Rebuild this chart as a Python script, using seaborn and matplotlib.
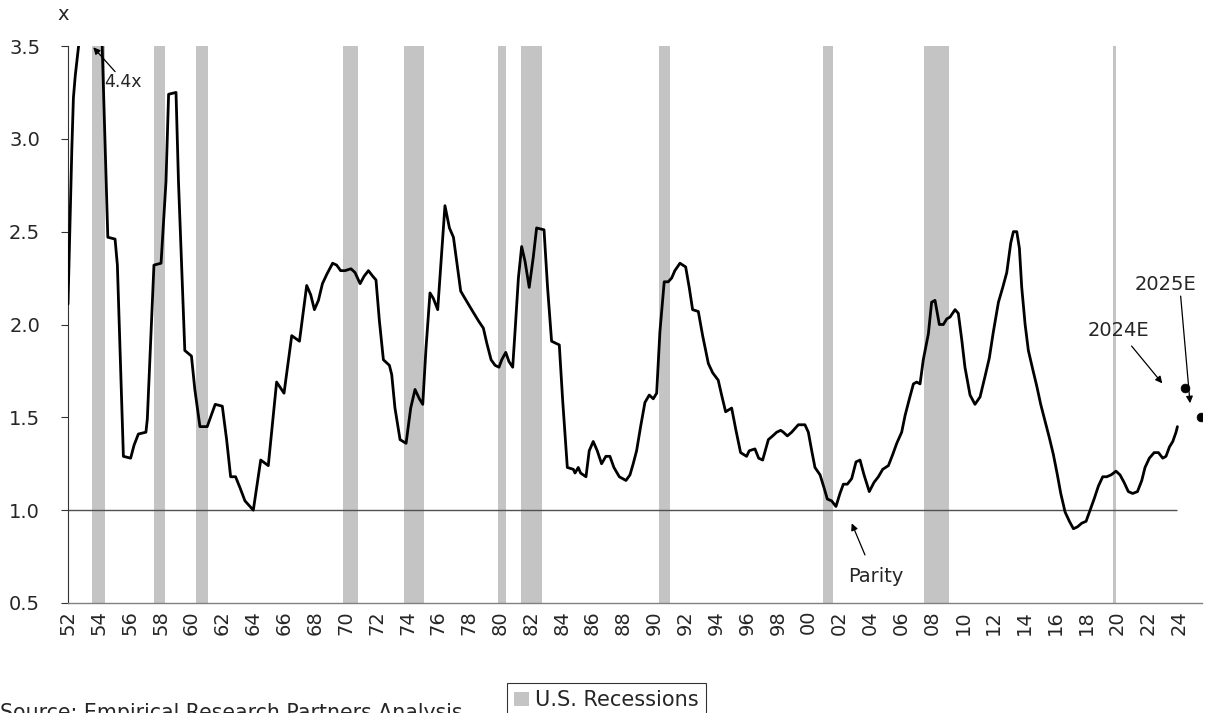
# -*- coding: utf-8 -*-
# relative multiple, 1952-2024, with U.S. recession bands
import numpy as np
import pandas as pd
import seaborn as sns
import matplotlib.pyplot as plt
from matplotlib.patches import Patch

#%% data
years = [1952.0, 1952.25, 1952.35, 1952.47, 1953.9, 1954.58, 1955.05, 1955.2, 1955.59, 1956.06,
         1956.28, 1956.56, 1957.05, 1957.14, 1957.57, 1958.03, 1958.35, 1958.52, 1959.0, 1959.16,
         1959.57, 1960.0, 1960.22, 1960.55, 1961.02, 1961.54, 1962.0, 1962.28, 1962.54, 1962.86,
         1963.15, 1963.47, 1964.01, 1964.49, 1964.98, 1965.52, 1966.0, 1966.5, 1967.0, 1967.47,
         1967.73, 1967.97, 1968.23, 1968.49, 1968.77, 1969.15, 1969.41, 1969.67, 1969.95, 1970.34,
         1970.6, 1970.93, 1971.19, 1971.47, 1971.75, 1971.96, 1972.18, 1972.44, 1972.83, 1972.98,
         1973.19, 1973.52, 1973.91, 1974.21, 1974.49, 1974.77, 1974.99, 1975.2, 1975.46, 1975.68,
         1975.96, 1976.22, 1976.43, 1976.72, 1976.98, 1977.19, 1977.45, 1977.73, 1978.16, 1978.6,
         1978.92, 1979.14, 1979.42, 1979.68, 1979.93, 1980.11, 1980.37, 1980.58, 1980.82, 1980.97,
         1981.19, 1981.4, 1981.62, 1981.89, 1982.15, 1982.37, 1982.85, 1983.08, 1983.34, 1983.84,
         1984.06, 1984.36, 1984.75, 1984.86, 1985.07, 1985.22, 1985.57, 1985.78, 1986.04, 1986.3,
         1986.58, 1986.86, 1987.12, 1987.38, 1987.73, 1988.16, 1988.42, 1988.63, 1988.85, 1989.11,
         1989.39, 1989.67, 1989.93, 1990.15, 1990.36, 1990.64, 1990.9, 1991.12, 1991.33, 1991.66,
         1992.03, 1992.26, 1992.48, 1992.85, 1993.13, 1993.5, 1993.78, 1994.14, 1994.36, 1994.62,
         1995.01, 1995.29, 1995.59, 1995.98, 1996.15, 1996.52, 1996.76, 1997.02, 1997.39, 1997.67,
         1997.93, 1998.19, 1998.36, 1998.62, 1998.9, 1999.33, 1999.76, 1999.98, 2000.2, 2000.41,
         2000.74, 2001.0, 2001.21, 2001.49, 2001.77, 2002.03, 2002.25, 2002.51, 2002.79, 2003.07,
         2003.33, 2003.59, 2003.93, 2004.24, 2004.52, 2004.8, 2005.17, 2005.45, 2005.71, 2006.03,
         2006.25, 2006.53, 2006.79, 2007.0, 2007.22, 2007.43, 2007.76, 2007.97, 2008.19, 2008.47,
         2008.73, 2008.95, 2009.16, 2009.49, 2009.7, 2009.92, 2010.13, 2010.46, 2010.78, 2011.11,
         2011.43, 2011.71, 2011.97, 2012.3, 2012.58, 2012.84, 2013.1, 2013.27, 2013.49, 2013.66,
         2013.81, 2014.03, 2014.24, 2014.52, 2014.78, 2015.04, 2015.32, 2015.6, 2015.86, 2016.12,
         2016.34, 2016.62, 2016.9, 2017.16, 2017.42, 2017.7, 2017.98, 2018.24, 2018.5, 2018.78,
         2019.06, 2019.32, 2019.6, 2019.92, 2020.18, 2020.44, 2020.72, 2021.0, 2021.31, 2021.59,
         2021.8, 2022.08, 2022.39, 2022.67, 2022.95, 2023.16, 2023.38, 2023.6, 2023.81, 2023.9]
ratio = [2.11, 2.95, 3.22, 3.34, 4.40, 2.47, 2.46, 2.32, 1.29, 1.28,
         1.35, 1.41, 1.42, 1.49, 2.32, 2.33, 2.77, 3.24, 3.25, 2.77,
         1.86, 1.83, 1.65, 1.45, 1.45, 1.57, 1.56, 1.38, 1.18, 1.18,
         1.12, 1.05, 1.00, 1.27, 1.24, 1.69, 1.63, 1.94, 1.91, 2.21,
         2.16, 2.08, 2.13, 2.22, 2.27, 2.33, 2.32, 2.29, 2.29, 2.30,
         2.28, 2.22, 2.26, 2.29, 2.26, 2.24, 2.02, 1.81, 1.78, 1.73,
         1.55, 1.38, 1.36, 1.55, 1.65, 1.60, 1.57, 1.87, 2.17, 2.14,
         2.08, 2.39, 2.64, 2.52, 2.47, 2.34, 2.18, 2.14, 2.08, 2.02,
         1.98, 1.90, 1.81, 1.78, 1.77, 1.81, 1.85, 1.80, 1.77, 1.96,
         2.25, 2.42, 2.34, 2.20, 2.36, 2.52, 2.51, 2.20, 1.91, 1.89,
         1.59, 1.23, 1.22, 1.20, 1.23, 1.20, 1.18, 1.32, 1.37, 1.32,
         1.25, 1.29, 1.29, 1.23, 1.18, 1.16, 1.19, 1.25, 1.32, 1.45,
         1.58, 1.62, 1.60, 1.63, 1.96, 2.23, 2.23, 2.25, 2.29, 2.33,
         2.31, 2.20, 2.08, 2.07, 1.94, 1.79, 1.74, 1.70, 1.62, 1.53,
         1.55, 1.43, 1.31, 1.29, 1.32, 1.33, 1.28, 1.27, 1.38, 1.40,
         1.42, 1.43, 1.42, 1.40, 1.42, 1.46, 1.46, 1.42, 1.32, 1.23,
         1.19, 1.12, 1.06, 1.05, 1.02, 1.09, 1.14, 1.14, 1.17, 1.26,
         1.27, 1.19, 1.10, 1.15, 1.18, 1.22, 1.24, 1.30, 1.36, 1.42,
         1.51, 1.60, 1.68, 1.69, 1.68, 1.81, 1.95, 2.12, 2.13, 2.00,
         2.00, 2.03, 2.04, 2.08, 2.06, 1.92, 1.77, 1.62, 1.57, 1.61,
         1.72, 1.82, 1.96, 2.12, 2.20, 2.28, 2.44, 2.50, 2.50, 2.41,
         2.20, 2.00, 1.86, 1.76, 1.67, 1.57, 1.48, 1.39, 1.30, 1.19,
         1.09, 0.99, 0.94, 0.90, 0.91, 0.93, 0.94, 1.00, 1.06, 1.13,
         1.18, 1.18, 1.19, 1.21, 1.19, 1.15, 1.10, 1.09, 1.10, 1.16,
         1.23, 1.28, 1.31, 1.31, 1.28, 1.29, 1.34, 1.37, 1.42, 1.45]

est_years = [2024.39, 2025.41]
est_vals = [1.656, 1.503]
est_labels = ["2024E", "2025E"]

rec_start = [1953.55, 1957.6, 1960.3, 1969.85, 1973.75, 1979.9, 1981.35, 1990.3, 2000.95, 2007.5, 2019.75]
rec_end = [1954.4, 1958.3, 1961.1, 1970.8, 1975.05, 1980.4, 1982.7, 1991.0, 2001.6, 2009.1, 2019.9]

parity = 1.0
tick_years = list(range(1952, 2025, 2))
tick_labels = ["%02d" % (y % 100) for y in tick_years]
y_ticks = [0.5, 1.0, 1.5, 2.0, 2.5, 3.0, 3.5]

df = pd.DataFrame({"year": years, "ratio": ratio})
df_est = pd.DataFrame({"year": est_years, "ratio": est_vals})

#%% figure
sns.set_style('white')
plt.rcParams['font.family'] = ['DejaVu Sans']

W, H = 1206, 713
fig = plt.figure(figsize=(W / 100, H / 100), dpi=100)
ax = fig.add_axes([68 / W, (H - 603) / H, (1202 - 68) / W, (603 - 46) / H])

for s, e in zip(rec_start, rec_end):
    ax.axvspan(s, e, color='#c4c4c4', lw=0, zorder=0)

ax.hlines(parity, years[0], years[-1], color='#505050', lw=1.0, zorder=1)

sns.lineplot(data=df, x="year", y="ratio", ax=ax, color='black', lw=2.0,
             estimator=None, sort=False, zorder=3)
sns.scatterplot(data=df_est, x="year", y="ratio", ax=ax, color='black',
                s=40, edgecolor='black', zorder=4)

ax.set_xlim(1952, 1952 + (1202 - 68) / 15.43)
ax.set_ylim(0.5, 3.5)
ax.set_xticks(tick_years)
ax.set_xticklabels(tick_labels, rotation=90, fontsize=14)
ax.set_yticks(y_ticks)
ax.set_yticklabels(["%.1f" % v for v in y_ticks], fontsize=14)
ax.set_xlabel("")
ax.set_ylabel("")
ax.tick_params(axis='x', length=0, pad=5)
ax.tick_params(axis='y', direction='out', length=5, width=0.8, color='#333333', pad=15, left=True)

ax.spines['top'].set_visible(False)
ax.spines['right'].set_visible(False)
ax.spines['left'].set_color('#333333')
ax.spines['left'].set_linewidth(0.8)
ax.spines['bottom'].set_color('#808080')
ax.spines['bottom'].set_linewidth(1.0)

# annotations
arr = dict(arrowstyle='-|>', color='black', lw=0.9, mutation_scale=10, shrinkA=0, shrinkB=0)
ax.text(1955.53, 3.308, "4.4x", fontsize=12.5, ha='center', va='center')
ax.annotate("", xy=(1953.64, 3.493), xytext=(1955.05, 3.362), arrowprops=arr)

ax.text(2004.35, 0.645, "Parity", fontsize=14, ha='center', va='center')
ax.annotate("", xy=(2002.79, 0.929), xytext=(2003.65, 0.759), arrowprops=arr)

ax.text(2020.06, 1.970, est_labels[0], fontsize=14, ha='center', va='center')
ax.annotate("", xy=(2022.92, 1.683), xytext=(2020.93, 1.884), arrowprops=arr)
ax.text(2023.15, 2.216, est_labels[1], fontsize=14, ha='center', va='center')
ax.annotate("", xy=(2024.72, 1.576), xytext=(2024.11, 2.153), arrowprops=arr)

fig.text(63 / W, 1 - 15 / H, "x", fontsize=14, ha='center', va='center')
fig.text(0.0, 1 - 703 / H, "Source: Empirical Research Partners Analysis.", fontsize=14.8,
         ha='left', va='top')

leg = fig.legend(handles=[Patch(facecolor='#c4c4c4', edgecolor='none')], labels=["U.S. Recessions"],
                 loc='upper left', bbox_to_anchor=(507 / W, 1 - 683 / H), fontsize=15,
                 frameon=True, fancybox=False, handlelength=0.7, handleheight=0.7,
                 handletextpad=0.3, borderpad=0.35, borderaxespad=0)
leg.get_frame().set_edgecolor('black')
leg.get_frame().set_linewidth(0.8)

plt.savefig("out.png", dpi=100)
